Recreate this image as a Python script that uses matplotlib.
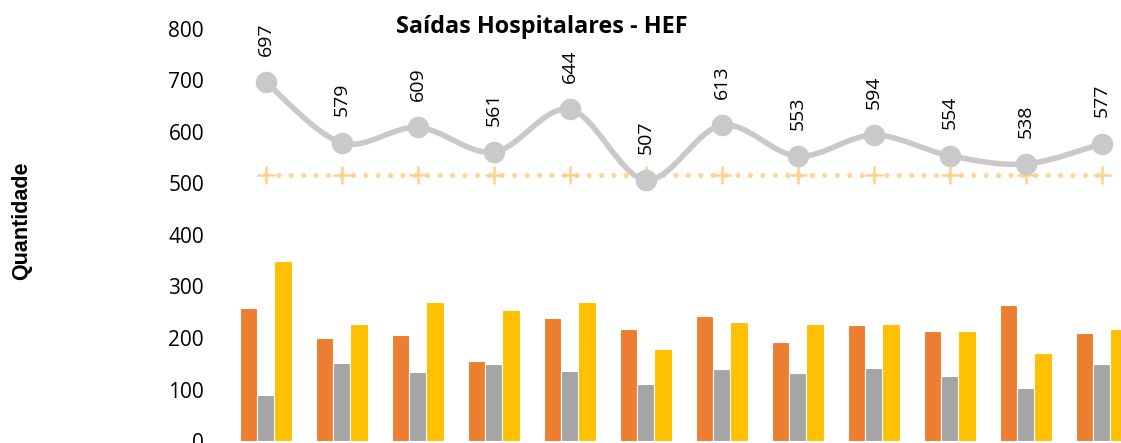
import numpy as np
import matplotlib
matplotlib.use('Agg')
import matplotlib.pyplot as plt
from matplotlib.path import Path
from matplotlib.patches import PathPatch

# dados (12 meses)
meses = ['Jan', 'Fev', 'Mar', 'Abr', 'Mai', 'Jun', 'Jul', 'Ago', 'Set', 'Out', 'Nov', 'Dez']
serie_1 = [258, 200, 206, 156, 238, 217, 242, 193, 225, 214, 265, 209]
serie_2 = [90, 152, 134, 150, 136, 111, 139, 133, 142, 127, 102, 150]
serie_3 = [349, 227, 269, 255, 270, 179, 232, 227, 227, 213, 171, 218]
total = [697, 579, 609, 561, 644, 507, 613, 553, 594, 554, 538, 577]
meta = [517] * 12

plt.rcParams['font.family'] = ['Open Sans', 'DejaVu Sans']

fig = plt.figure(figsize=(11.21, 4.43), dpi=100)
ax = fig.add_axes([227.7 / 1121, 2 / 443, 912 / 1121, 412 / 443])

x = np.arange(len(meses))
w = 0.228
ax.bar(x - w, serie_1, w, color='#ED7D31', edgecolor='white', linewidth=0.8, zorder=2)
ax.bar(x, serie_2, w, color='#A5A5A5', edgecolor='white', linewidth=0.8, zorder=2)
ax.bar(x + w, serie_3, w, color='#FFC000', edgecolor='white', linewidth=0.8, zorder=2)

# meta (linha pontilhada com cruzes)
ax.plot(x, meta, color='#FFD59C', lw=3.8, linestyle=(0, (0.001, 2.35)),
        dash_capstyle='round', zorder=3)
ax.plot(x, meta, linestyle='none', marker='+', markersize=13, markeredgewidth=1.8,
        color='#FFD08E', zorder=3)

# linha suavizada do total (bezier tipo excel)
pts = np.column_stack([x, total]).astype(float)
n = len(pts)
verts = [pts[0]]
codes = [Path.MOVETO]
for i in range(n - 1):
    p0 = pts[max(i - 1, 0)]
    p1 = pts[i]
    p2 = pts[i + 1]
    p3 = pts[min(i + 2, n - 1)]
    verts += [p1 + (p2 - p0) / 6, p2 - (p3 - p1) / 6, p2]
    codes += [Path.CURVE4] * 3
ax.add_patch(PathPatch(Path(verts, codes), facecolor='none', edgecolor='#C9C9C9',
                       lw=4, capstyle='round', zorder=4))
ax.plot(x, total, linestyle='none', marker='o', markersize=14.5, color='#C9C9C9', zorder=5)

for xi, v in zip(x, total):
    ax.annotate(str(v), (xi, v), xytext=(0, 19), textcoords='offset points',
                rotation=90, ha='center', va='bottom', fontsize=14, color='black')

ax.set_xlim(-0.5, 11.5)
ax.set_ylim(0, 800)
ax.set_yticks(range(0, 801, 100))
ax.set_xticks([])
ax.tick_params(axis='y', length=0, pad=17, labelsize=15)
for s in ax.spines.values():
    s.set_visible(False)

fig.text(541.5 / 1121, (443 - 33) / 443, 'Saídas Hospitalares - HEF', ha='center',
         va='baseline', fontsize=16.8, fontweight='bold')
fig.text(22 / 1121, (443 - 221) / 443, 'Quantidade', rotation=90, ha='center',
         va='center', fontsize=15.5, fontweight='bold', family=['Liberation Sans', 'DejaVu Sans'])

fig.savefig('out.png', dpi=100)
